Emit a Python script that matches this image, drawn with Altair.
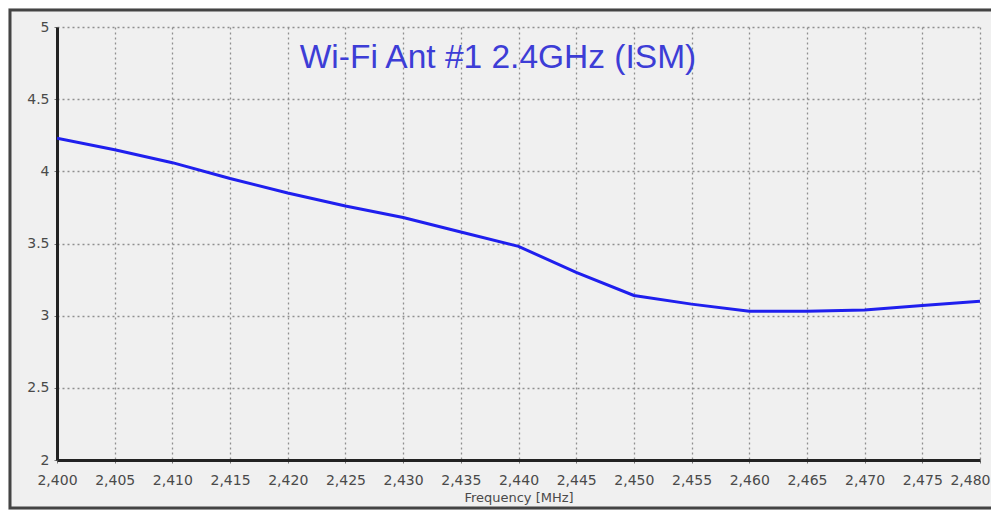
import altair as alt
import pandas as pd

freq = [2400, 2405, 2410, 2415, 2420, 2425, 2430, 2435, 2440, 2445, 2450, 2455, 2460, 2465, 2470, 2475, 2480]
gain = [4.23, 4.15, 4.06, 3.95, 3.85, 3.76, 3.68, 3.58, 3.48, 3.30, 3.14, 3.08, 3.03, 3.03, 3.04, 3.07, 3.10]
x_ticks = list(range(2400, 2481, 5))
y_ticks = [2, 2.5, 3, 3.5, 4, 4.5, 5]
title_text = "Wi-Fi Ant #1 2.4GHz (ISM)"

df = pd.DataFrame({"freq": freq, "gain": gain})

W, H = 923, 433
PL, PR, PT, PB = 49, 11, 19, 50

base = alt.Chart(df)

axis_common = dict(
    grid=True, gridDash=[2, 3], gridColor="#8f8f8f", gridWidth=1.3,
    domainColor="#222222", domainWidth=3, tickColor="#777777",
    tickSize=3, labelFontSize=14, labelColor="#4a4a4a",
    labelFont="DejaVu Sans", labelFlush=False,
)

line = base.mark_line(color="#1f1fee", strokeWidth=3, clip=True).encode(
    x=alt.X("freq:Q", scale=alt.Scale(domain=[2400, 2480], nice=False),
            axis=alt.Axis(values=x_ticks, format=",d", title="Frequency [MHz]",
                          labelPadding=10, titleFontSize=13, titleColor="#4a4a4a",
                          titleFontWeight="normal", titlePadding=4,
                          titleFont="DejaVu Sans",
                          labelAlign={"condition": {"test": "datum.value == 2480", "value": "right"}, "value": "center"},
                          labelOffset={"condition": {"test": "datum.value == 2480", "value": 10}, "value": 0},
                          **axis_common)),
    y=alt.Y("gain:Q", scale=alt.Scale(domain=[2, 5], nice=False),
            axis=alt.Axis(values=y_ticks, format="~g", title=None,
                          labelPadding=5, **axis_common)),
)

title = alt.Chart(pd.DataFrame({"t": [title_text]})).mark_text(
    fontSize=33.5, color="#3d3dd6", font="Liberation Sans", baseline="middle", align="center"
).encode(text="t:N", x=alt.value(441), y=alt.value(31))

frame = alt.Chart(pd.DataFrame({"a": [0]})).mark_rect(
    fill=None, stroke="#444444", strokeWidth=3, clip=False
).encode(x=alt.value(-PL + 2), x2=alt.value(W + PR + 10), y=alt.value(-PT + 2), y2=alt.value(H + PB - 2))

chart = alt.layer(frame, line, title).properties(
    width=W, height=H,
    padding={"left": PL, "right": PR, "top": PT, "bottom": PB},
    autosize=alt.AutoSizeParams(type="none"),
    background="#f0f0f0",
).configure_view(stroke=None)

chart.save("out.html", embed_options={"renderer": "svg", "actions": False})
